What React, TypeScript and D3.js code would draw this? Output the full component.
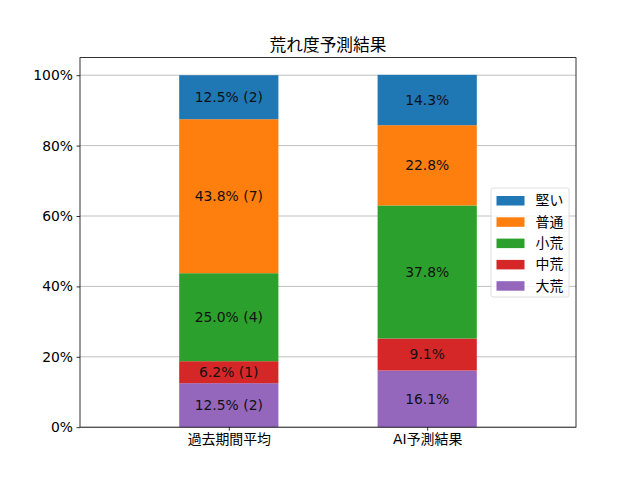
import { useEffect, useRef } from 'react';
import * as d3 from 'd3';

const categories = ['過去期間平均', 'AI予測結果'];
const seriesNames = ['大荒', '中荒', '小荒', '普通', '堅い'];
const colors = ['#9467bd', '#d62728', '#2ca02c', '#ff7f0e', '#1f77b4'];
// share of each class, bottom to top
const pastValues = [0.125, 0.0625, 0.25, 0.4375, 0.125];
const pastCounts = [2, 1, 4, 7, 2];
const pastLabels = ['12.5', '6.2', '25.0', '43.8', '12.5'];
const aiValues = [0.161, 0.091, 0.378, 0.228, 0.143];
const yTicks = [0, 0.2, 0.4, 0.6, 0.8, 1.0];

const FONT = '"DejaVu Sans", "Noto Sans CJK JP", sans-serif';

export default function App() {
  const ref = useRef<SVGSVGElement>(null);

  useEffect(() => {
    if (!ref.current) return;
    const svg = d3.select(ref.current);
    svg.selectAll('*').remove();

    const width = 640;
    const height = 480;
    const left = 80, right = 576, top = 57.6, bottom = 427.2;

    svg.attr('width', width).attr('height', height).style('font-family', FONT);
    svg.append('rect').attr('width', width).attr('height', height).attr('fill', '#fff');

    const x = d3.scaleLinear().domain([-0.75, 1.75]).range([left, right]);
    const y = d3.scaleLinear().domain([0, 1.05]).range([bottom, top]);

    // grid
    svg.append('g')
      .selectAll('line')
      .data(yTicks)
      .enter()
      .append('line')
      .attr('x1', left)
      .attr('x2', right)
      .attr('y1', (d) => y(d))
      .attr('y2', (d) => y(d))
      .attr('stroke', '#b0b0b0')
      .attr('stroke-width', 0.8);

    const rows = categories.map((_c, i) => {
      const vals = i === 0 ? pastValues : aiValues;
      let acc = 0;
      return vals.map((v, j) => {
        const y0 = acc;
        acc += v;
        const label = i === 0
          ? `${pastLabels[j]}% (${pastCounts[j]})`
          : `${(v * 100).toFixed(1)}%`;
        return { cat: i, y0, y1: acc, j, label };
      });
    }).flat();

    const bw = 0.5;
    const bars = svg.append('g');
    bars.selectAll('rect')
      .data(rows)
      .enter()
      .append('rect')
      .attr('x', (d) => x(d.cat - bw / 2))
      .attr('width', x(bw) - x(0))
      .attr('y', (d) => y(d.y1))
      .attr('height', (d) => y(d.y0) - y(d.y1))
      .attr('fill', (d) => colors[d.j]);

    bars.selectAll('text')
      .data(rows)
      .enter()
      .append('text')
      .attr('x', (d) => x(d.cat))
      .attr('y', (d) => y((d.y0 + d.y1) / 2))
      .attr('dy', '0.35em')
      .attr('text-anchor', 'middle')
      .attr('font-size', 13.9)
      .attr('fill', '#111')
      .text((d) => d.label);

    // axes frame
    svg.append('rect')
      .attr('x', left)
      .attr('y', top)
      .attr('width', right - left)
      .attr('height', bottom - top)
      .attr('fill', 'none')
      .attr('stroke', '#000')
      .attr('stroke-width', 0.8);

    const yAxis = svg.append('g')
      .attr('transform', `translate(${left},0)`)
      .call(d3.axisLeft(y).tickValues(yTicks).tickSize(3.5).tickPadding(3.5).tickFormat((d) => `${Math.round(+d * 100)}%`));
    yAxis.select('.domain').remove();
    yAxis.selectAll('text').attr('font-size', 13.9).attr('font-family', FONT).attr('fill', '#000');
    yAxis.selectAll('line').attr('stroke-width', 0.8);

    const xAxis = svg.append('g')
      .attr('transform', `translate(0,${bottom})`)
      .call(d3.axisBottom(x).tickValues([0, 1]).tickSize(3.5).tickPadding(3.5).tickFormat((d) => categories[+d]));
    xAxis.select('.domain').remove();
    xAxis.selectAll('text').attr('font-size', 13.9).attr('font-family', FONT).attr('fill', '#000');
    xAxis.selectAll('line').attr('stroke-width', 0.8);

    svg.append('text')
      .attr('x', (left + right) / 2)
      .attr('y', top - 7)
      .attr('text-anchor', 'middle')
      .attr('font-size', 16.7)
      .text('荒れ度予測結果');

    // legend, top series first
    const legend = svg.append('g').attr('transform', 'translate(491,188)');
    legend.append('rect')
      .attr('width', 78)
      .attr('height', 109)
      .attr('rx', 2)
      .attr('fill', '#fff')
      .attr('fill-opacity', 0.8)
      .attr('stroke', '#d6d6d6')
      .attr('stroke-width', 0.8);
    const order = d3.range(seriesNames.length).reverse();
    const item = legend.selectAll('g.item')
      .data(order)
      .enter()
      .append('g')
      .attr('class', 'item')
      .attr('transform', (_d, i) => `translate(0,${12.5 + i * 21.3})`);
    item.append('rect')
      .attr('x', 5.5)
      .attr('y', -4.5)
      .attr('width', 28)
      .attr('height', 9.5)
      .attr('fill', (d) => colors[d]);
    item.append('text')
      .attr('x', 44.5)
      .attr('dy', '0.35em')
      .attr('font-size', 13.9)
      .text((d) => seriesNames[d]);
  }, []);

  return <svg ref={ref} style={{ display: 'block', margin: -8 }} />;
}
